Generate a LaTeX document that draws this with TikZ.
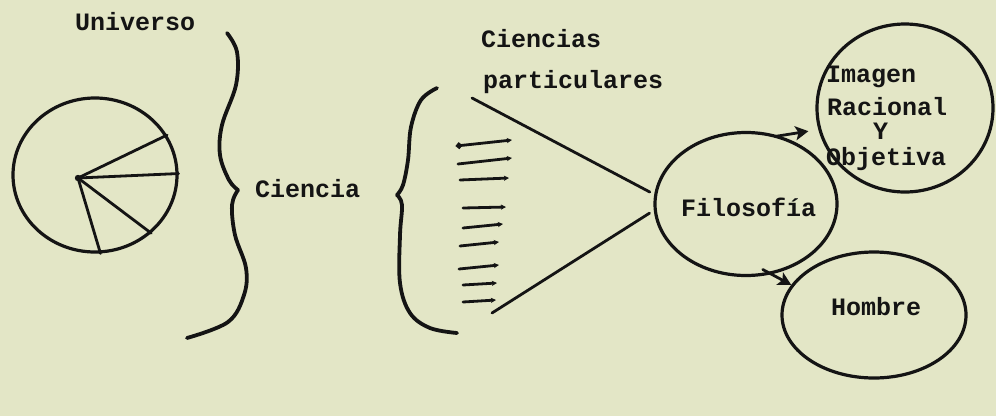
\documentclass[tikz,border=0pt]{standalone}
\usepackage{fontspec}
\setmonofont{Liberation Mono}
\usetikzlibrary{shapes.geometric,arrows.meta}
\definecolor{paper}{HTML}{E3E6C6}
\definecolor{ink}{HTML}{141414}
\begin{document}
\begin{tikzpicture}[x=1pt,y=-1pt,
  lbl/.style={font=\ttfamily\bfseries\fontsize{25}{25}\selectfont, text=ink, inner sep=0pt, anchor=base west},
  blob/.style={draw=ink, line width=3.2pt, ellipse, inner sep=0pt},
  pen/.style={draw=ink, line width=3.8pt, line cap=round, line join=round},
  stroke/.style={draw=ink, line width=2.8pt, line cap=round},
  tipend/.style={-{Stealth[length=5pt,width=5pt,inset=1pt]}},
  bigtip/.style={-{Stealth[length=13pt,width=14pt,inset=3pt]}}
]
\fill[paper] (0,0) rectangle (996,416);
\useasboundingbox (0,0) rectangle (996,416);

% Universe circle with radii
\node[blob, minimum width=164pt, minimum height=154pt] (univ) at (95,175) {};
\coordinate (hub) at (78,178);
\fill[ink] (hub) circle (3.2pt);
\draw[stroke] (hub) -- (univ.29);
\draw[stroke] (hub) -- (univ.1);
\draw[stroke] (hub) -- (univ.-46);
\draw[stroke] (hub) -- (univ.-86);

% labels
\node[lbl] (tuniv) at (75,30) {Universo};
\node[lbl] (tcien) at (255,197) {Ciencia};
\node[lbl] (tcp1) at (481,47) {Ciencias};
\node[lbl] (tcp2) at (483,88) {particulares};

% first brace  }
\draw[pen] plot[smooth, tension=0.6] coordinates {(227,33) (237,52) (236,85) (222,125) (220,155) (229,180) (238,190)};
\draw[pen] plot[smooth, tension=0.6] coordinates {(238,190) (232,205) (235,235) (246,268) (244,295) (228,322) (187,338)};

% second brace {
\draw[pen] plot[smooth, tension=0.6] coordinates {(437,88) (421,100) (411,127) (408,160) (403,185) (397,195)};
\draw[pen] plot[smooth, tension=0.6] coordinates {(397,195) (402,205) (400,235) (400,283) (410,313) (430,328) (457,333)};

% short strokes (particular sciences)
\draw[stroke, {Circle[length=6pt]}-{Stealth[length=5pt,width=5pt,inset=1pt]}] (456,146) -- (512,140);
\draw[stroke, tipend] (458,164) -- (512,158);
\draw[stroke, tipend] (460,180) -- (509,178);
\draw[stroke, tipend] (463,208) -- (506,207);
\draw[stroke, tipend] (463,228) -- (503,224);
\draw[stroke, tipend] (460,246) -- (499,242);
\draw[stroke, tipend] (459,269) -- (499,265);
\draw[stroke, tipend] (463,285) -- (497,283);
\draw[stroke, tipend] (463,302) -- (496,300);

% Filosofia
\node[blob, minimum width=182pt, minimum height=143pt] (filo) at (746,204) {};
\node[lbl] (tfilo) at (681,216) {Filosofía};

% converging lines
\coordinate (cp1) at (472,98);
\coordinate (cp2) at (492,313);
\draw[stroke, shorten >=5pt] (cp1) -- (filo.174);
\draw[stroke, shorten >=5pt] (cp2) -- (filo.184);

% Imagen Racional y Objetiva
\node[blob, minimum width=176pt, minimum height=168pt] (imag) at (905,108) {};
\node[lbl] (ti1) at (826,82) {Imagen};
\node[lbl, text depth=0pt] (ti2) at (827,115) {Racional};
\node[lbl] (ti3) at (873,139) {Y};
\node[lbl] (ti4) at (826,165) {Objetiva};

% Hombre
\node[blob, minimum width=184pt, minimum height=126pt] (homb) at (874,315) {};
\node[lbl] (thom) at (831,315) {Hombre};

% arrows
\draw[stroke, bigtip, shorten >=10pt, shorten <=-4pt] (filo.64) -- (imag.194);
\draw[stroke, bigtip, shorten <=-10pt] (filo.-70) -- (homb.160);
\end{tikzpicture}
\end{document}
